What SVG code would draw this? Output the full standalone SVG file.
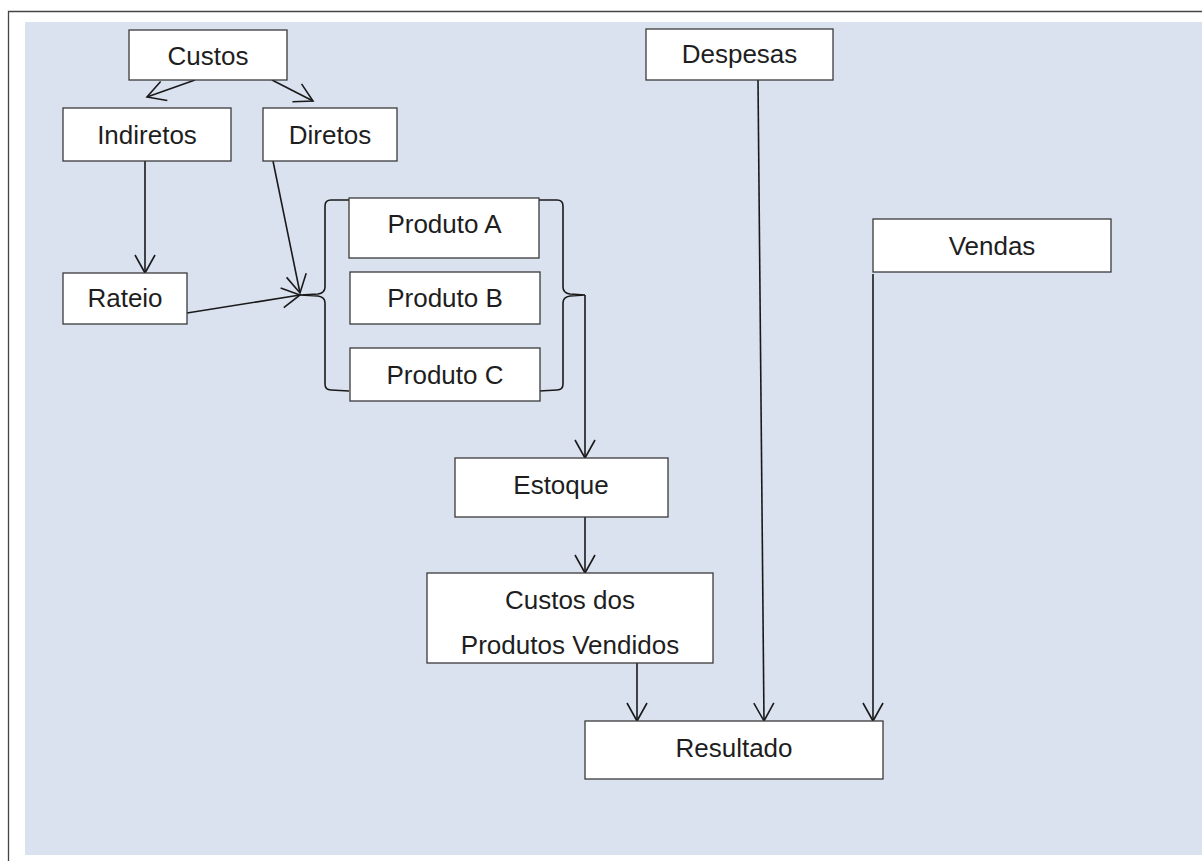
<svg xmlns="http://www.w3.org/2000/svg" width="1202" height="861" viewBox="0 0 1202 861">
  <defs>
    <style>
      .box { fill: #ffffff; stroke: #3a3a3a; stroke-width: 1.3; }
      .lbl { font-family: "Liberation Sans", Arial, sans-serif; font-size: 26px; fill: #1e1e1e; text-anchor: middle; }
      .edge { fill: none; stroke: #1a1a1a; stroke-width: 1.6; }
      .arr { marker-end: url(#open); }
      .brace { fill: none; stroke: #1a1a1a; stroke-width: 1.6; }
    </style>
    <marker id="open" markerUnits="userSpaceOnUse" markerWidth="24" markerHeight="24" viewBox="-20 -12 22 24" refX="0" refY="0" orient="auto">
      <path d="M-18,-10 L0,0 L-18,10" fill="none" stroke="#1a1a1a" stroke-width="1.6"/>
    </marker>
  </defs>

  <!-- page frame and panel -->
  <rect x="25" y="22" width="1177" height="833" fill="#dbe2ef"/>
  <path d="M8.5,861 L8.5,11.5 L1202,11.5" fill="none" stroke="#444" stroke-width="1.3"/>

  <!-- connectors -->
  <g id="connectors">
    <line class="edge arr" x1="195" y1="80" x2="147" y2="97"/>
    <line class="edge arr" x1="272" y1="80" x2="313" y2="101"/>
    <line class="edge arr" x1="145" y1="161" x2="145" y2="273"/>
    <line class="edge arr" x1="273" y1="161" x2="300" y2="293"/>
    <line class="edge arr" x1="187" y1="313" x2="300" y2="295"/>
    <line class="edge arr" x1="585" y1="295" x2="585" y2="458"/>
    <line class="edge arr" x1="585" y1="517" x2="585" y2="573"/>
    <line class="edge arr" x1="637" y1="663" x2="637" y2="721"/>
    <line class="edge arr" x1="758" y1="80" x2="764" y2="721"/>
    <line class="edge arr" x1="873" y1="274" x2="873" y2="721"/>
    <!-- braces grouping the products -->
    <path class="brace" d="M349,200 L331,200 Q325,200 325,206 L325,287 Q325,293 318,294 L300,295 L318,296 Q325,297 325,303 L325,384 Q325,390 331,390 L349,391"/>
    <path class="brace" d="M539,200 L557,200 Q563,200 563,206 L563,287 Q563,293 570,294 L585,295 L570,296 Q563,297 563,303 L563,384 Q563,390 557,390 L539,391"/>
  </g>

  <g id="custos">
    <rect class="box" x="129" y="30" width="158" height="50"/>
    <text class="lbl" x="208" y="64.5">Custos</text>
  </g>
  <g id="indiretos">
    <rect class="box" x="63" y="108" width="168" height="53"/>
    <text class="lbl" x="147" y="143.5">Indiretos</text>
  </g>
  <g id="diretos">
    <rect class="box" x="263" y="108" width="134" height="53"/>
    <text class="lbl" x="330" y="143.5">Diretos</text>
  </g>
  <g id="rateio">
    <rect class="box" x="63" y="273" width="124" height="51"/>
    <text class="lbl" x="125" y="307">Rateio</text>
  </g>
  <g id="produto-a">
    <rect class="box" x="349" y="198" width="190" height="60"/>
    <text class="lbl" x="444.5" y="233">Produto A</text>
  </g>
  <g id="produto-b">
    <rect class="box" x="350" y="272" width="190" height="52"/>
    <text class="lbl" x="445" y="307">Produto B</text>
  </g>
  <g id="produto-c">
    <rect class="box" x="350" y="348" width="190" height="53"/>
    <text class="lbl" x="445" y="383.5">Produto C</text>
  </g>
  <g id="despesas">
    <rect class="box" x="646" y="29" width="187" height="51"/>
    <text class="lbl" x="739.5" y="63">Despesas</text>
  </g>
  <g id="vendas">
    <rect class="box" x="873" y="219" width="238" height="53"/>
    <text class="lbl" x="992" y="255">Vendas</text>
  </g>
  <g id="estoque">
    <rect class="box" x="455" y="458" width="213" height="59"/>
    <text class="lbl" x="561" y="493.5">Estoque</text>
  </g>
  <g id="cpv">
    <rect class="box" x="427" y="573" width="286" height="90"/>
    <text class="lbl" x="570" y="608.5">Custos dos</text>
    <text class="lbl" x="570" y="653.5">Produtos Vendidos</text>
  </g>
  <g id="resultado">
    <rect class="box" x="585" y="721" width="298" height="58"/>
    <text class="lbl" x="734" y="756.5">Resultado</text>
  </g>
</svg>
